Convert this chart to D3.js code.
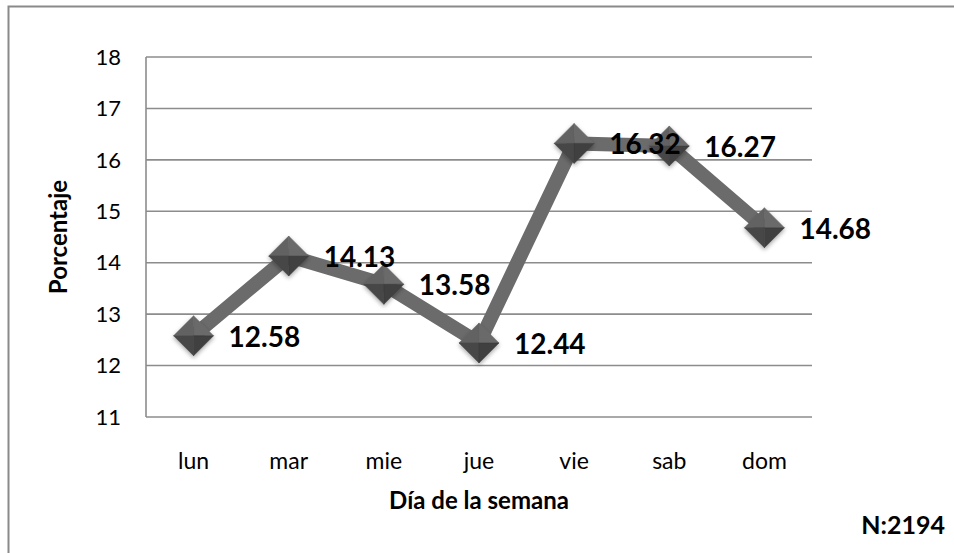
<!DOCTYPE html>
<html>
<head>
<meta charset="utf-8">
<script src="https://cdnjs.cloudflare.com/ajax/libs/d3/7.8.5/d3.min.js"></script>
<style>
  body { margin: 0; background: #fff; }
  text { font-family: Lato, "Open Sans", sans-serif; fill: #000; }
</style>
</head>
<body>
<div id="chart"></div>
<script>
// data
var dias = ["lun", "mar", "mie", "jue", "vie", "sab", "dom"];
var porcentajes = [12.58, 14.13, 13.58, 12.44, 16.32, 16.27, 14.68];
var yTicks = [11, 12, 13, 14, 15, 16, 17, 18];

var width = 954, height = 553;
var margin = {left: 146, right: 142, top: 57, bottom: 136};

var svg = d3.select("#chart").append("svg")
    .attr("width", width)
    .attr("height", height);

// outer frame (only top and left edges show)
svg.append("path")
    .attr("d", "M8.5," + height + "V6.5H" + width)
    .attr("fill", "none")
    .attr("stroke", "#8a8a8a")
    .attr("stroke-width", 2);

var x = d3.scaleBand()
    .domain(dias)
    .range([margin.left, width - margin.right]);

var y = d3.scaleLinear()
    .domain([11, 18])
    .range([height - margin.bottom, margin.top]);

// gridlines
svg.append("g")
    .selectAll("line")
    .data(yTicks)
    .join("line")
    .attr("x1", margin.left)
    .attr("x2", width - margin.right)
    .attr("y1", d => y(d))
    .attr("y2", d => y(d))
    .attr("stroke", "#8c8c8c")
    .attr("stroke-width", 1.6);

// left axis line
svg.append("line")
    .attr("x1", margin.left).attr("x2", margin.left)
    .attr("y1", y(18)).attr("y2", y(11))
    .attr("stroke", "#8c8c8c")
    .attr("stroke-width", 1.6);

// y tick labels
svg.append("g")
    .selectAll("text")
    .data(yTicks)
    .join("text")
    .attr("x", 121)
    .attr("y", d => y(d))
    .attr("dy", "0.35em")
    .attr("text-anchor", "end")
    .style("font-size", "22px")
    .text(d => d);

// x tick labels
svg.append("g")
    .selectAll("text")
    .data(dias)
    .join("text")
    .attr("x", d => x(d) + x.bandwidth() / 2)
    .attr("y", 461)
    .attr("dy", "0.35em")
    .attr("text-anchor", "middle")
    .style("font-size", "23px")
    .text(d => d);

// axis titles
svg.append("text")
    .attr("x", (margin.left + width - margin.right) / 2)
    .attr("y", 501)
    .attr("dy", "0.35em")
    .attr("text-anchor", "middle")
    .style("font-size", "24px")
    .style("font-weight", "bold")
    .text("Día de la semana");

svg.append("text")
    .attr("transform", "translate(59," + (y(11) + y(18)) / 2 + ") rotate(-90)")
    .attr("dy", "0.35em")
    .attr("text-anchor", "middle")
    .style("font-size", "24px")
    .style("font-weight", "bold")
    .text("Porcentaje");

svg.append("text")
    .attr("x", 945)
    .attr("y", 525)
    .attr("dy", "0.35em")
    .attr("text-anchor", "end")
    .style("font-size", "25px")
    .style("font-weight", "bold")
    .text("N:2194");

var pts = dias.map((d, i) => ({dia: d, v: porcentajes[i],
    cx: x(d) + x.bandwidth() / 2, cy: y(porcentajes[i])}));

// line
var line = d3.line().x(d => d.cx).y(d => d.cy);
svg.append("path")
    .datum(pts)
    .attr("d", line)
    .attr("fill", "none")
    .attr("stroke", "#6b6b6b")
    .attr("stroke-width", 14)
    .attr("stroke-linejoin", "miter");

// shadow for markers
var defs = svg.append("defs");
var f = defs.append("filter").attr("id", "sh")
    .attr("x", "-50%").attr("y", "-50%").attr("width", "200%").attr("height", "200%");
f.append("feDropShadow").attr("dx", 0).attr("dy", 2).attr("stdDeviation", 2)
    .attr("flood-color", "#000").attr("flood-opacity", 0.35);

// diamond markers, shaded like a small pyramid
var r = 20;
var faces = [
    {p: [[0, -1], [1, 0], [0, 0]], c: "#6a6a6a"},
    {p: [[0, -1], [-1, 0], [0, 0]], c: "#626262"},
    {p: [[-1, 0], [0, 1], [0, 0]], c: "#474747"},
    {p: [[1, 0], [0, 1], [0, 0]], c: "#3f3f3f"}
];
var mk = svg.append("g")
    .selectAll("g")
    .data(pts)
    .join("g")
    .attr("transform", d => "translate(" + d.cx + "," + d.cy + ")")
    .attr("filter", "url(#sh)");
mk.selectAll("path")
    .data(faces)
    .join("path")
    .attr("d", d => "M" + d.p.map(q => [q[0] * r, q[1] * r].join(",")).join("L") + "Z")
    .attr("fill", d => d.c)
    .attr("stroke", d => d.c)
    .attr("stroke-width", 0.5);

// value labels
svg.append("g")
    .selectAll("text")
    .data(pts)
    .join("text")
    .attr("x", d => d.cx + 35)
    .attr("y", d => d.cy + 1)
    .attr("dy", "0.35em")
    .style("font-size", "28px")
    .style("font-weight", "bold")
    .text(d => d.v.toFixed(2));
</script>
</body>
</html>
